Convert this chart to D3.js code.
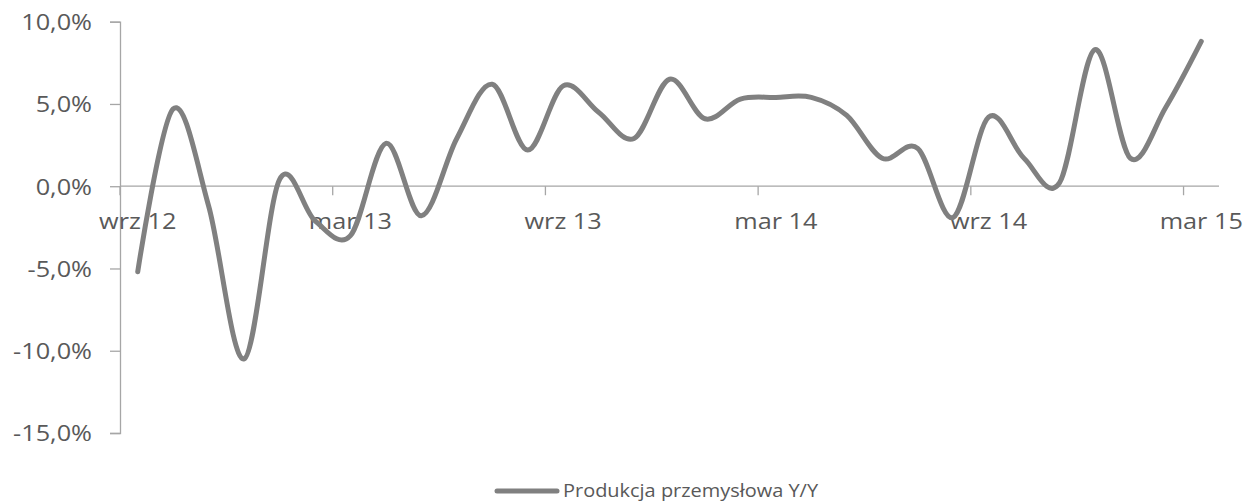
<!DOCTYPE html>
<html>
<head>
<meta charset="utf-8">
<script src="https://cdn.jsdelivr.net/npm/d3@7"></script>
<style>
  html, body { margin: 0; padding: 0; background: #fff; }
  svg { display: block; }
  text { font-family: "Open Sans", sans-serif; fill: #595959; }
</style>
</head>
<body>
<svg id="chart" width="1245" height="504"></svg>
<script>
// Months from September 2012 to March 2015
const months = [
  "wrz 12", "paź 12", "lis 12", "gru 12",
  "sty 13", "lut 13", "mar 13", "kwi 13", "maj 13", "cze 13", "lip 13", "sie 13",
  "wrz 13", "paź 13", "lis 13", "gru 13",
  "sty 14", "lut 14", "mar 14", "kwi 14", "maj 14", "cze 14", "lip 14", "sie 14",
  "wrz 14", "paź 14", "lis 14", "gru 14",
  "sty 15", "lut 15", "mar 15"
];
// Industrial production, year on year change (%)
const productionYY = [
  -5.2, 4.7, -1.2, -10.5,
  0.4, -2.1, -3.0, 2.6, -1.8, 2.9, 6.2, 2.2,
  6.1, 4.5, 2.9, 6.5,
  4.1, 5.3, 5.4, 5.4, 4.3, 1.7, 2.3, -1.9,
  4.2, 1.7, 0.2, 8.3,
  1.7, 4.8, 8.8
];
const seriesName = "Produkcja przemysłowa Y/Y";
const yTicks = [-15, -10, -5, 0, 5, 10];
const xLabelMonths = ["wrz 12", "mar 13", "wrz 13", "mar 14", "wrz 14", "mar 15"];

const svg = d3.select("#chart");
const axisColor = "#a6a6a6";
const lineColor = "#808080";

const x = d3.scaleBand().domain(months).range([120, 1219]).padding(0);
const y = d3.scaleLinear().domain([-15, 10]).range([433, 21.7]);
const xc = m => x(m) + x.bandwidth() / 2;

const pl = d3.formatLocale({ decimal: ",", thousands: " ", grouping: [3], currency: ["", " zł"], minus: "-" });
const pct = v => pl.format(".1f")(v) + "%";

// Vertical axis with labels
const yAxis = d3.axisLeft(y).tickValues(yTicks).tickFormat(pct).tickSize(10).tickPadding(0);
const gy = svg.append("g").attr("transform", "translate(120,0)").call(yAxis);
gy.select(".domain").attr("stroke", axisColor).attr("stroke-width", 1.3);
gy.selectAll(".tick line").attr("stroke", axisColor).attr("stroke-width", 1.3);
gy.selectAll(".tick text")
  .attr("dy", "0.36em")
  .attr("font-size", 22)
  .attr("font-family", null)
  .attr("fill", "#595959")
  .attr("transform", "scale(1.15,1)")
  .attr("x", -28 / 1.15);

// Horizontal axis at zero
const gx = svg.append("g").attr("transform", `translate(0,${y(0)})`);
gx.append("line")
  .attr("x1", x.range()[0]).attr("x2", x.range()[1])
  .attr("stroke", axisColor).attr("stroke-width", 1.3);
// tick marks on category boundaries every six months
gx.selectAll("line.tk")
  .data(xLabelMonths)
  .join("line")
  .attr("class", "tk")
  .attr("x1", d => x(d)).attr("x2", d => x(d))
  .attr("y1", 0).attr("y2", 9)
  .attr("stroke", axisColor).attr("stroke-width", 1.3);
gx.selectAll("text.lbl")
  .data(xLabelMonths)
  .join("text")
  .attr("class", "lbl")
  .attr("text-anchor", "middle")
  .attr("font-size", 22)
  .attr("transform", d => `translate(${xc(d)},43) scale(1.15,1)`)
  .text(d => d);

// Smoothed series line
const line = d3.line()
  .x((d, i) => xc(months[i]))
  .y(d => y(d))
  .curve(d3.curveCatmullRom.alpha(0));
svg.append("path")
  .datum(productionYY)
  .attr("fill", "none")
  .attr("stroke", lineColor)
  .attr("stroke-width", 5)
  .attr("stroke-linecap", "round")
  .attr("stroke-linejoin", "round")
  .attr("d", line);

// Legend
const lg = svg.append("g").attr("transform", "translate(497,491)");
lg.append("line")
  .attr("x1", 0).attr("x2", 60).attr("y1", 0).attr("y2", 0)
  .attr("stroke", lineColor).attr("stroke-width", 5).attr("stroke-linecap", "round");
lg.append("text")
  .attr("transform", "translate(66,6) scale(1.05,1)")
  .attr("font-size", 19)
  .text(seriesName);
</script>
</body>
</html>
